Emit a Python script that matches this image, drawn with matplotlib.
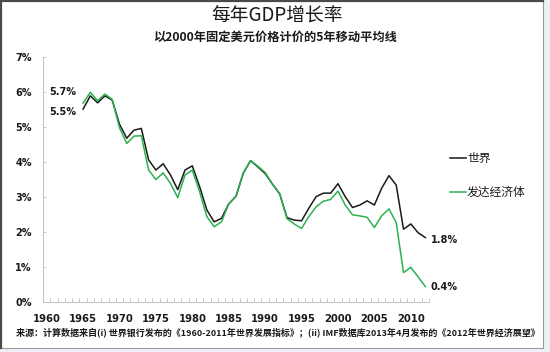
import numpy as np
import matplotlib.pyplot as plt
from matplotlib.patches import Rectangle
from matplotlib.lines import Line2D

plt.rcParams['font.family'] = ['Noto Sans CJK SC', 'DejaVu Sans']

# 5年移动平均 GDP 增长率 (%), 1965-2012
years = list(range(1965, 2013))
world = [5.51, 5.89, 5.69, 5.89, 5.77, 5.08, 4.68, 4.91, 4.96, 4.06,
         3.77, 3.95, 3.63, 3.21, 3.77, 3.89, 3.30, 2.63, 2.29, 2.39,
         2.80, 3.02, 3.68, 4.04, 3.86, 3.67, 3.37, 3.09, 2.41, 2.34,
         2.32, 2.68, 3.01, 3.11, 3.11, 3.38, 3.01, 2.70, 2.77, 2.89,
         2.77, 3.25, 3.61, 3.34, 2.08, 2.23, 1.98, 1.84]
developed = [5.68, 5.99, 5.75, 5.94, 5.79, 4.98, 4.53, 4.74, 4.75, 3.77,
             3.50, 3.69, 3.39, 2.98, 3.63, 3.77, 3.15, 2.44, 2.15, 2.29,
             2.80, 3.02, 3.69, 4.04, 3.88, 3.70, 3.37, 3.09, 2.38, 2.23,
             2.10, 2.44, 2.72, 2.88, 2.93, 3.17, 2.77, 2.49, 2.46, 2.42,
             2.13, 2.46, 2.66, 2.27, 0.84, 0.99, 0.72, 0.44]
year_labels = list(range(1960, 2011, 5))
y_ticks = list(range(0, 8))

black = '#1a1a1a'
green = '#2bb24c'

fig = plt.figure(figsize=(5.5, 3.52), dpi=100)
fig.patch.set_facecolor('#edf1f6')

# 图表外框
fig.patches.append(Rectangle((0, 1 - 348 / 352), 543 / 550, 348 / 352,
                             transform=fig.transFigure, facecolor='white',
                             edgecolor='#9a9a9a', linewidth=0.8, zorder=-5))
fig.lines.append(Line2D([0.001, 0.001], [1 - 348 / 352, 1], transform=fig.transFigure,
                        color='#4a4a4a', linewidth=1.6, zorder=-4))
fig.lines.append(Line2D([0, 543 / 550], [0.998, 0.998], transform=fig.transFigure,
                        color='#4a4a4a', linewidth=1.6, zorder=-4))

ax = fig.add_axes([43 / 550, 1 - 302 / 352, 386 / 550, 245 / 352])
ax.set_facecolor('none')

ax.plot(years, world, color=black, lw=1.1, label='世界')
ax.plot(years, developed, color=green, lw=1.1, label='发达经济体')

ax.set_xlim(1959.5, 2012.5)
ax.set_ylim(0, 7)

ax.set_xticks(year_labels)
ax.set_xticklabels([str(y) for y in year_labels], fontsize=7.2, fontweight='bold',
                   color=black, family='DejaVu Sans')
ax.set_xticks(np.arange(1959.5, 2013, 1), minor=True)
ax.tick_params(axis='x', which='major', length=0, pad=9)
ax.tick_params(axis='x', which='minor', direction='in', length=3, color='#bfbfbf', width=0.6)

ax.set_yticks(y_ticks)
ax.set_yticklabels([f'{v}%' for v in y_ticks], fontsize=7, fontweight='bold',
                   color=black, family='DejaVu Sans')
ax.tick_params(axis='y', direction='in', length=2.5, color='#bfbfbf', width=0.6, pad=8)

for s in ['top', 'right']:
    ax.spines[s].set_visible(False)
for s in ['left', 'bottom']:
    ax.spines[s].set_color('#bfbfbf')
    ax.spines[s].set_linewidth(0.7)

# 数据标签
lab = dict(fontsize=7, fontweight='bold', color=black, family='DejaVu Sans',
           textcoords='offset points', va='center')
ax.annotate(f'{developed[0]:.1f}%', (years[0], developed[0]), xytext=(-5, 8), ha='right', **lab)
ax.annotate(f'{world[0]:.1f}%', (years[0], world[0]), xytext=(-5, -2), ha='right', **lab)
ax.annotate(f'{world[-1]:.1f}%', (years[-1], world[-1]), xytext=(4, -1.5), ha='left', **lab)
ax.annotate(f'{developed[-1]:.1f}%', (years[-1], developed[-1]), xytext=(4, 0), ha='left', **lab)

leg = ax.legend(loc='upper left', bbox_to_anchor=(450 / 550, 1 - 152 / 352),
                bbox_transform=fig.transFigure, frameon=False, fontsize=8.5,
                handlelength=1.35, handletextpad=0.1, labelspacing=1.75,
                borderaxespad=0, borderpad=0)
for t in leg.get_texts():
    t.set_color(black)

fig.text(0.503, 1 - 15 / 352, '每年GDP增长率', ha='center', va='center',
         fontsize=13.5, color=black)
fig.text(0.501, 1 - 37 / 352, '以2000年固定美元价格计价的5年移动平均线', ha='center', va='center',
         fontsize=8.8, fontweight='bold', color=black)
fig.text(16 / 550, 1 - 332 / 352,
         '来源：计算数据来自(i) 世界银行发布的《1960-2011年世界发展指标》；(ii) IMF数据库2013年4月发布的《2012年世界经济展望》',
         ha='left', va='center', fontsize=6.5, fontweight='bold', color=black)

fig.savefig('out.png', dpi=100, facecolor=fig.get_facecolor())
